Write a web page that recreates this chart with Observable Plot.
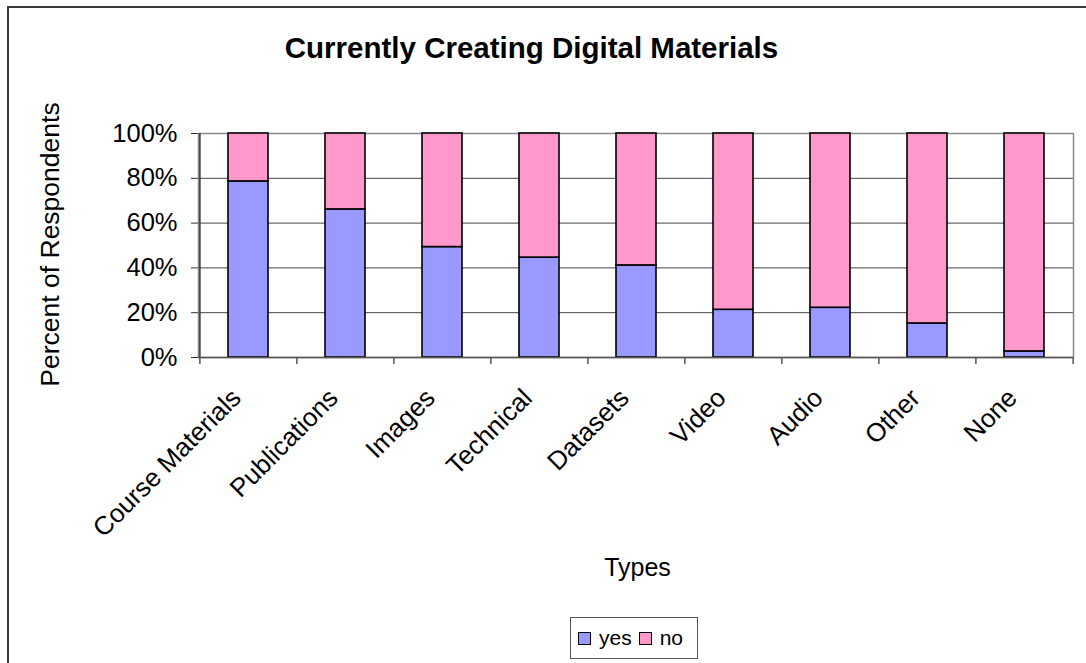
<!DOCTYPE html>
<html>
<head>
<meta charset="utf-8">
<script src="https://cdn.jsdelivr.net/npm/d3@7"></script>
<script src="https://cdn.jsdelivr.net/npm/@observablehq/plot@0.6"></script>
<style>
  html, body { margin: 0; padding: 0; background: #fff; }
  #wrap { position: relative; width: 1086px; height: 663px; overflow: hidden; font-family: "Liberation Sans", Arial, sans-serif; }
  #outer { position: absolute; left: 7px; top: 6px; width: 1200px; height: 800px; border-left: 2px solid #3a3a3a; border-top: 2px solid #3a3a3a; }
  #chart { position: absolute; left: 0; top: 0; }
  #legend { position: absolute; left: 570px; top: 617px; width: 128px; height: 42px; border: 1px solid #555; box-sizing: border-box; display: flex; align-items: center; font-size: 21px; color: #000; }
  .sw { display: inline-block; width: 11px; height: 11px; border: 1px solid #000; margin-left: 7px; margin-right: 8px; }
</style>
</head>
<body>
<div id="wrap">
  <div id="outer"></div>
  <div id="chart"></div>
  <div id="legend"></div>
</div>
<script>
const categories = ["Course Materials", "Publications", "Images", "Technical", "Datasets", "Video", "Audio", "Other", "None"];
const yesValues = [0.786, 0.661, 0.493, 0.446, 0.411, 0.213, 0.222, 0.152, 0.027];
const seriesNames = ["yes", "no"];
const seriesColors = ["#9999FF", "#FF99CC"];
const yTicks = [0, 0.2, 0.4, 0.6, 0.8, 1];
const titleText = "Currently Creating Digital Materials";
const xLabel = "Types";
const yLabel = "Percent of Respondents";

const rows = [];
categories.forEach((c, i) => rows.push({type: c, series: "yes", value: yesValues[i]}));
categories.forEach((c, i) => rows.push({type: c, series: "no", value: 1 - yesValues[i]}));

const W = 1086, H = 663;
const mL = 198, mR = 13, mT = 133, mB = 306;
const step = (W - mL - mR) / categories.length;
const font = "Liberation Sans, Arial, sans-serif";

const chart = Plot.plot({
  width: W,
  height: H,
  marginLeft: mL,
  marginRight: mR,
  marginTop: mT,
  marginBottom: mB,
  style: {fontFamily: font, background: "transparent", overflow: "visible"},
  x: {domain: categories, paddingInner: 0.59, paddingOuter: 0.295, axis: null},
  y: {domain: [0, 1], axis: null},
  color: {domain: seriesNames, range: seriesColors},
  marks: [
    Plot.ruleY(yTicks, {y: d => d, stroke: "#444", strokeWidth: 1}),
    Plot.frame({stroke: "#8a8a8a", strokeWidth: 1.5}),
    Plot.barY(rows, {x: "type", y: "value", fill: "series", stroke: "#000", strokeWidth: 1.6}),
    // y axis
    Plot.axisY(yTicks, {anchor: "left", tickSize: 7, tickPadding: 14, tickFormat: d3.format(".0%"), fontSize: 25.5, stroke: "#333", fill: "#000", label: null}),
    Plot.ruleX(categories.slice(0, 1), {x: d => d, y1: 0, y2: 1, dx: -step / 2, stroke: "#333", strokeWidth: 1.5}),
    // x category boundary ticks
    Plot.ruleX(categories, {x: d => d, y1: 0, y2: -7 / 224, dx: -step / 2, stroke: "#555", strokeWidth: 1.5}),
    Plot.ruleX(categories.slice(-1), {x: d => d, y1: 0, y2: -7 / 224, dx: step / 2, stroke: "#555", strokeWidth: 1.5}),
    Plot.ruleY([0], {stroke: "#555", strokeWidth: 1.5}),
    // x tick labels
    Plot.text(categories, {x: d => d, frameAnchor: "bottom", text: d => d, rotate: -45, textAnchor: "end", lineAnchor: "top", dx: -19, dy: 29, fontSize: 26, fill: "#000"}),
    // titles
    Plot.text([titleText], {frameAnchor: "top-left", text: d => d, dx: 531 - mL, dy: 57 - mT, textAnchor: "middle", lineAnchor: "bottom", fontSize: 29.5, fontWeight: "bold", fill: "#000"}),
    Plot.text([yLabel], {frameAnchor: "left", text: d => d, dx: 50 - mL, dy: -1, rotate: -90, textAnchor: "middle", lineAnchor: "middle", fontSize: 26.5, fill: "#000"}),
    Plot.text([xLabel], {frameAnchor: "bottom-left", text: d => d, dx: 637 - mL, dy: 575 - (H - mB), textAnchor: "middle", lineAnchor: "bottom", fontSize: 25, fill: "#000"})
  ]
});
document.getElementById("chart").appendChild(chart);

const legend = document.getElementById("legend");
seriesNames.forEach((s, i) => {
  const sw = document.createElement("span");
  sw.className = "sw";
  sw.style.background = seriesColors[i];
  legend.appendChild(sw);
  const t = document.createElement("span");
  t.textContent = s;
  legend.appendChild(t);
});
</script>
</body>
</html>
